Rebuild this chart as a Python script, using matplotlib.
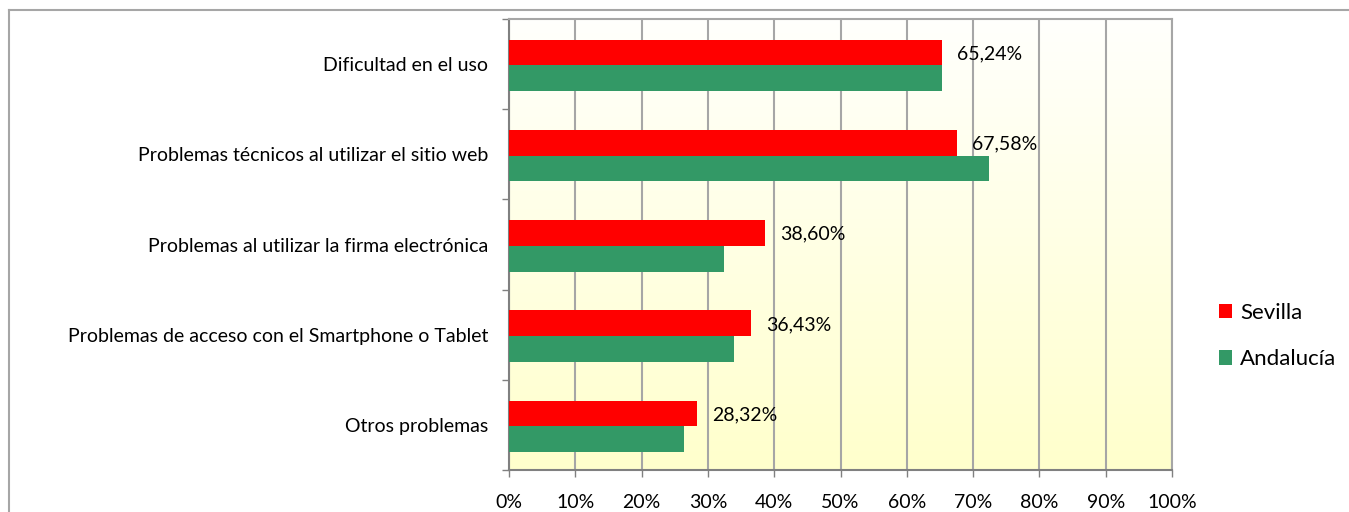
import numpy as np
import matplotlib
matplotlib.use('Agg')
import matplotlib.pyplot as plt
from matplotlib.patches import Patch
from matplotlib.lines import Line2D

plt.rcParams['font.family'] = ['Lato', 'DejaVu Sans']

# datos
categorias = ['Dificultad en el uso',
              'Problemas técnicos al utilizar el sitio web',
              'Problemas al utilizar la firma electrónica',
              'Problemas de acceso con el Smartphone o Tablet',
              'Otros problemas']
sevilla = [65.24, 67.58, 38.60, 36.43, 28.32]
andalucia = [65.3, 72.4, 32.4, 33.9, 26.4]
etiquetas = ['65,24%', '67,58%', '38,60%', '36,43%', '28,32%']
xticks = [0, 10, 20, 30, 40, 50, 60, 70, 80, 90, 100]

fig = plt.figure(figsize=(13.49, 5.12), dpi=100)
ax = fig.add_axes([509/1349, 1-470/512, (1172-509)/1349, (470-19)/512])

# fondo degradado (blanco arriba -> amarillo abajo)
grad = np.linspace(0, 1, 256).reshape(-1, 1)
c_top = np.array([1.0, 1.0, 0.99])
c_bot = np.array([1.0, 1.0, 0.80])
img = c_top + grad[..., None] * (c_bot - c_top)
img = np.repeat(img, 2, axis=1)
ax.imshow(img, extent=[0, 1, 0, 1], transform=ax.transAxes, aspect='auto', zorder=0)

y = np.arange(len(categorias))
h = 0.285
off = 0.015
ax.barh(y - h/2 + off, sevilla, height=h, color='#FF0000', zorder=3, label='Sevilla')
ax.barh(y + h/2 + off, andalucia, height=h, color='#339966', zorder=3, label='Andalucía')

for i, v in enumerate(sevilla):
    ax.text(v + 2.3, y[i] - h/2 + 0.03, etiquetas[i], va='center', ha='left', fontsize=14, zorder=4)

ax.set_xlim(0, 100)
ax.set_ylim(len(categorias) - 0.5, -0.5)
ax.set_xticks(xticks)
ax.set_xticklabels([f'{t}%' for t in xticks], fontsize=14)
ax.set_yticks(y)
ax.set_yticklabels(categorias, fontsize=14)
ax.tick_params(axis='y', length=0, pad=15)
ax.set_yticks(np.arange(-0.5, len(categorias), 1), minor=True)
ax.tick_params(axis='y', which='minor', length=5, color='#808080', width=1)
ax.tick_params(axis='x', length=5, color='#808080', width=1, pad=12)
ax.grid(axis='x', color='#A6A6A6', linewidth=1.5, zorder=1)
for s in ax.spines.values():
    s.set_color('#A6A6A6')
    s.set_linewidth(1.5)
ax.spines['left'].set_color('#808080')
ax.spines['bottom'].set_color('#808080')

handles = [Patch(facecolor='#FF0000', label='Sevilla'),
           Patch(facecolor='#339966', label='Andalucía')]
fig.legend(handles=handles, loc='center left', bbox_to_anchor=(1199/1349, 1-336/512),
           frameon=False, fontsize=16, handlelength=0.6, handleheight=0.6,
           handletextpad=0.35, labelspacing=1.2)

# borde exterior
fig.add_artist(Line2D([9/1349, 1], [1-10/512, 1-10/512], color='#A6A6A6', linewidth=1.5, transform=fig.transFigure))
fig.add_artist(Line2D([9/1349, 9/1349], [0, 1-10/512], color='#A6A6A6', linewidth=1.5, transform=fig.transFigure))

fig.savefig('out.png', dpi=100)
